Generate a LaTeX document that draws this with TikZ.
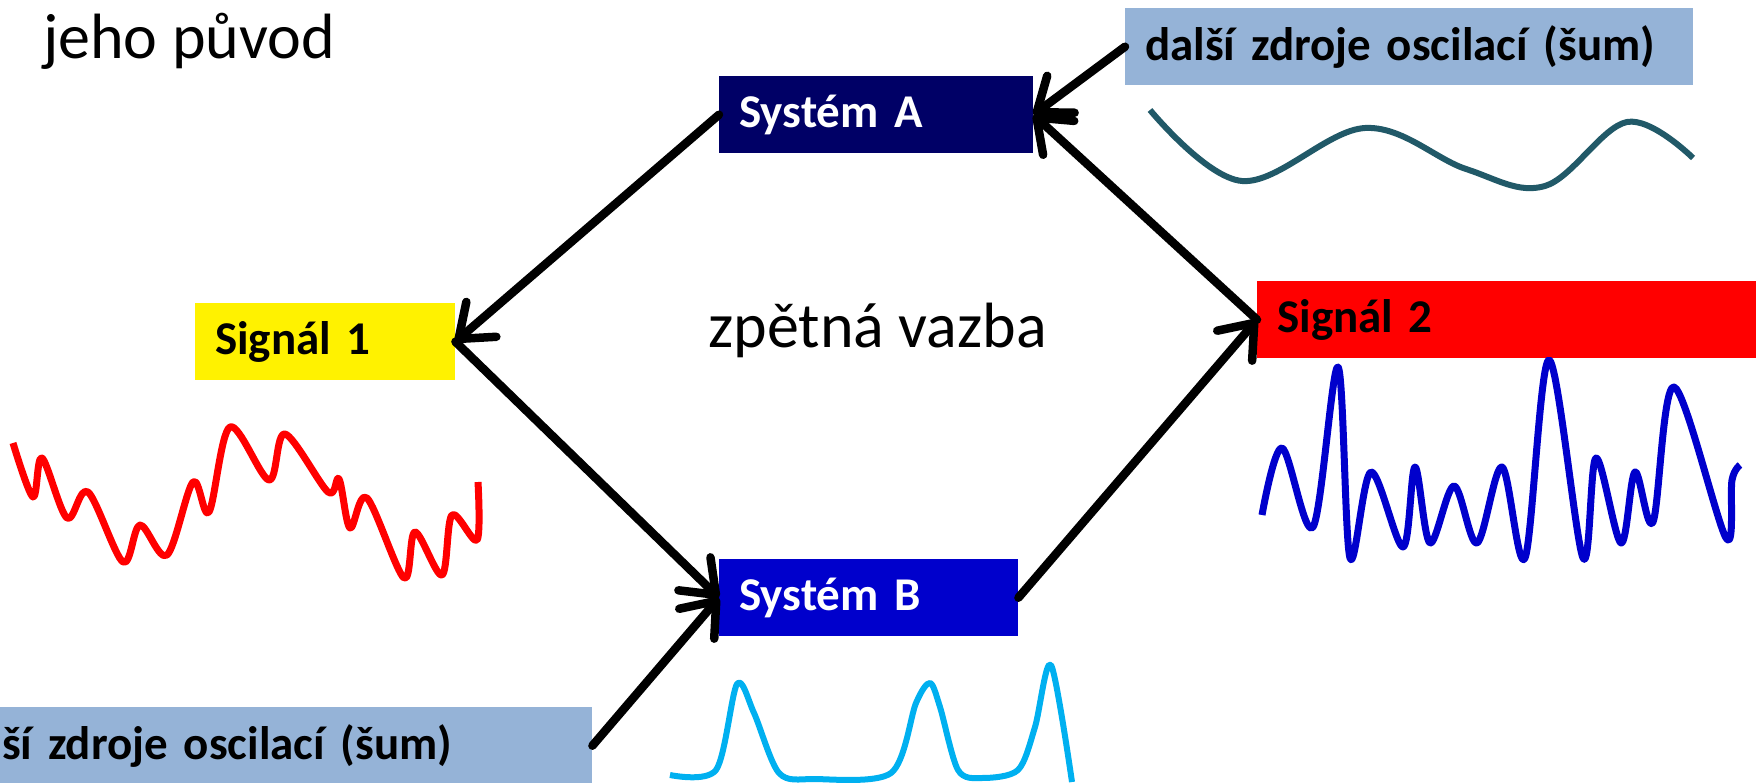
\documentclass[tikz,border=0pt]{standalone}
\usepackage{fontspec}
\setmainfont{Carlito}
\usetikzlibrary{arrows.meta}
\definecolor{navyA}{HTML}{000066}
\definecolor{blueB}{HTML}{0000CC}
\definecolor{noiseblue}{HTML}{95B3D7}
\definecolor{tealw}{HTML}{215968}
\definecolor{cyanw}{HTML}{00B0F0}
\definecolor{wblue}{HTML}{0000CC}
\begin{document}
\begin{tikzpicture}[x=1pt,y=-1pt,
  box/.style={rectangle, draw=none, inner xsep=20pt, inner ysep=0pt, minimum height=77pt, align=left, anchor=north west, font=\fontsize{47}{56}\selectfont\bfseries},
  big/.style={inner sep=0pt, anchor=base west, font=\fontsize{64}{76}\selectfont},
  conn/.style={line width=8.5pt, line cap=round, line join=round, -{Straight Barb[length=30pt,width=46pt,round]}},
  wave/.style={line width=7pt, line join=round}
]
\useasboundingbox (0,0) rectangle (1758,783);
\clip (0,0) rectangle (1758,783);

\node[big] (title) at (43,59) {jeho původ};
\node[big] (fb) at (708,348) {zpětná vazba};

\node[box, fill=navyA, text=white, text width=274pt] (sa) at (719,76) {Systém A};
\node[box, fill=noiseblue, text width=528pt] (n1) at (1125,8) {další zdroje oscilací (šum)};
\node[box, fill=yellow, text width=220pt] (s1) at (195,303) {Signál 1};
\node[box, fill=red, text width=459pt] (s2) at (1257,281) {Signál 2};
\node[box, fill=blueB, text=white, text width=259pt] (sb) at (719,559) {Systém B};
\node[box, fill=noiseblue, text width=630pt] (n2) at (-78,707) {další zdroje oscilací (šum)};

\draw[conn] (sa.west) -- (s1.east);
\draw[conn] (s1.east) -- (sb.west);
\draw[conn] (n2.east) -- (sb.west);
\draw[conn] (sb.east) -- (s2.west);
\draw[conn] (s2.west) -- (sa.east);
\draw[conn] (n1.west) -- (sa.east);

% red wave (Signal 1)
\draw[wave, red] plot[smooth, tension=0.55] coordinates {
 (13,443) (33,497) (42,458) (67,518) (88,492) (123,562) (140,525) (167,555)
 (193,482) (209,512) (230,427) (269,480) (285,434) (328,492) (339,479) (350,528)
 (367,498) (404,578) (415,532) (442,575) (452,515) (477,540) (478,482)};

% blue wave (Signal 2)
\draw[wave, wblue] plot[smooth, tension=0.55] coordinates {
 (1262,515) (1282,448) (1313,527) (1338,367) (1350,558) (1371,472) (1403,547)
 (1415,467) (1430,543) (1454,486) (1477,543) (1502,467) (1525,558) (1549,360)
 (1583,558) (1596,458) (1621,543) (1635,472) (1653,522) (1674,387) (1726,538)
 (1732,480) (1740,465)};

% teal wave (noise top)
\draw[wave, tealw, line width=6pt] plot[smooth, tension=0.6] coordinates {
 (1150,110) (1242,181) (1365,128) (1466,169) (1545,186) (1627,122) (1693,158)};

% cyan wave (System B)
\draw[wave, cyanw, line width=6pt] plot[smooth, tension=0.5] coordinates {
 (670,775) (716,770) (737,684) (754,713) (779,773) (814,779) (891,773)
 (916,703) (930,683) (940,707) (958,770) (982,778) (1018,770) (1035,727)
 (1051,665) (1072,782)};
\end{tikzpicture}
\end{document}
